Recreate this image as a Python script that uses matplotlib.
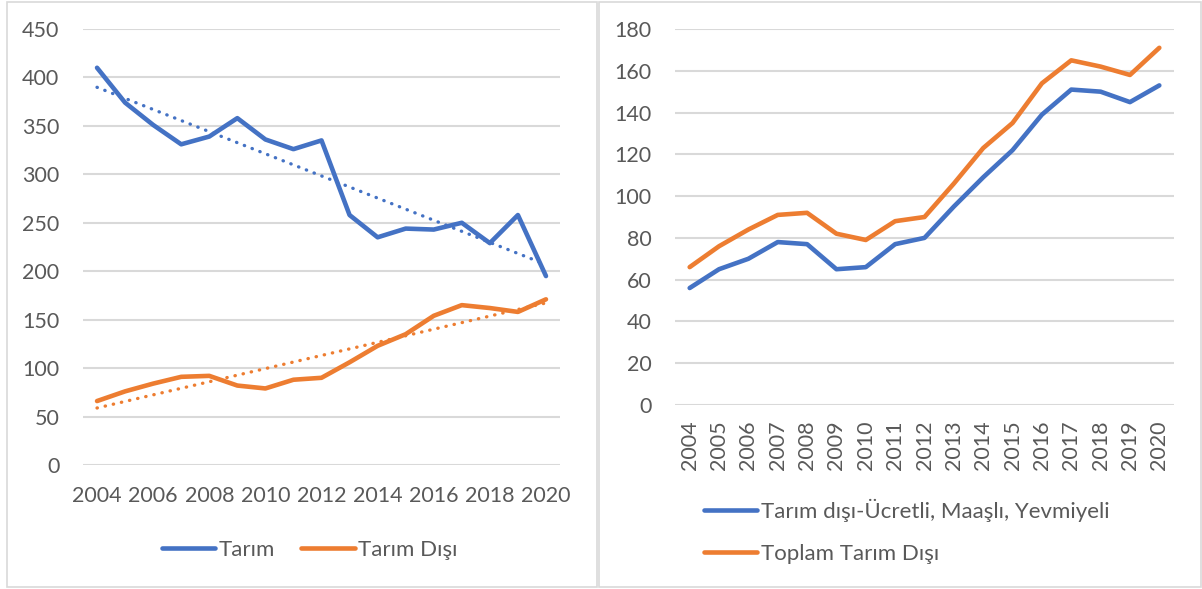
import numpy as np
import matplotlib
matplotlib.use("Agg")
from matplotlib import pyplot as plt
from matplotlib.patches import Rectangle

# data
years = list(range(2004, 2021))
tarim = [410, 374, 351, 331, 339, 358, 336, 326, 335, 258, 235, 244, 243, 250, 229, 258, 195]
tarim_disi = [66, 76, 84, 91, 92, 82, 79, 88, 90, 106, 123, 135, 154, 165, 162, 158, 171]
ucretli = [56, 65, 70, 78, 77, 65, 66, 77, 80, 95, 109, 122, 139, 151, 150, 145, 153]

left_ticks = [0, 50, 100, 150, 200, 250, 300, 350, 400, 450]
right_ticks = [0, 20, 40, 60, 80, 100, 120, 140, 160, 180]

BLUE = "#4472C4"
ORANGE = "#ED7D31"
TEXT = "#595959"
GRID = "#D9D9D9"
FONT = "Lato"
FS = 15.5     # tick labels
LFS = 16      # legend

plt.rcParams["font.family"] = [FONT, "DejaVu Sans"]

W, H = 1202, 589
fig = plt.figure(figsize=(W / 100, H / 100), dpi=100)
fig.patch.set_facecolor("white")


def px_axes(x0, y0, x1, y1):
    # pixel box (top-left origin) -> figure fraction
    return fig.add_axes([x0 / W, 1 - y1 / H, (x1 - x0) / W, (y1 - y0) / H])


def style(ax, yticks, ypad):
    for s in ax.spines.values():
        s.set_visible(False)
    ax.set_yticks(yticks)
    ax.set_ylim(yticks[0], yticks[-1])
    ax.grid(axis="y", color=GRID, linewidth=1.5)
    ax.set_axisbelow(True)
    ax.tick_params(axis="both", length=0, colors=TEXT, labelsize=FS)
    ax.tick_params(axis="y", pad=ypad)
    ax.set_xlim(years[0] - 0.5, years[-1] + 0.5)


# panel frames
for x0, x1 in [(7, 597), (599, 1201)]:
    fig.patches.append(Rectangle((x0 / W, 2 / H), (x1 - x0) / W, (H - 4) / H,
                                 transform=fig.transFigure, fill=False,
                                 edgecolor=GRID, linewidth=1.2))

# left chart
ax1 = px_axes(83, 29, 560, 465)
style(ax1, left_ticks, 17)
yr = np.array(years)
ax1.plot(years, tarim, color=BLUE, lw=3.3, solid_joinstyle="round",
         solid_capstyle="round", label="Tarım")
ax1.plot(years, tarim_disi, color=ORANGE, lw=3.3, solid_joinstyle="round",
         solid_capstyle="round", label="Tarım Dışı")
for vals, c in [(tarim, BLUE), (tarim_disi, ORANGE)]:
    k, b = np.polyfit(yr, vals, 1)
    ax1.plot(yr, k * yr + b, color=c, lw=2.4, linestyle=(0, (0.1, 2.4)),
             dash_capstyle="round")
ax1.set_xticks(years[::2])
ax1.tick_params(axis="x", pad=15)
ax1.legend(loc="center", bbox_to_anchor=(0.475, -0.195), ncol=2, frameon=False,
           fontsize=LFS, labelcolor=TEXT, handlelength=2.4, handletextpad=0.15,
           columnspacing=1.2)

# right chart
ax2 = px_axes(675, 29, 1174, 405)
style(ax2, right_ticks, 17)
ax2.plot(years, ucretli, color=BLUE, lw=3.3, solid_joinstyle="round",
         solid_capstyle="round", label="Tarım dışı-Ücretli, Maaşlı, Yevmiyeli")
ax2.plot(years, tarim_disi, color=ORANGE, lw=3.3, solid_joinstyle="round",
         solid_capstyle="round", label="Toplam Tarım Dışı")
ax2.set_xticks(years)
ax2.tick_params(axis="x", pad=11, labelrotation=90)
ax2.legend(loc="upper left", bbox_to_anchor=(0.04, -0.226), ncol=1,
           frameon=False, fontsize=LFS, labelcolor=TEXT, handlelength=2.4,
           handletextpad=0.15, labelspacing=1.0, borderaxespad=0)

fig.savefig("out.png", dpi=100, facecolor="white")
